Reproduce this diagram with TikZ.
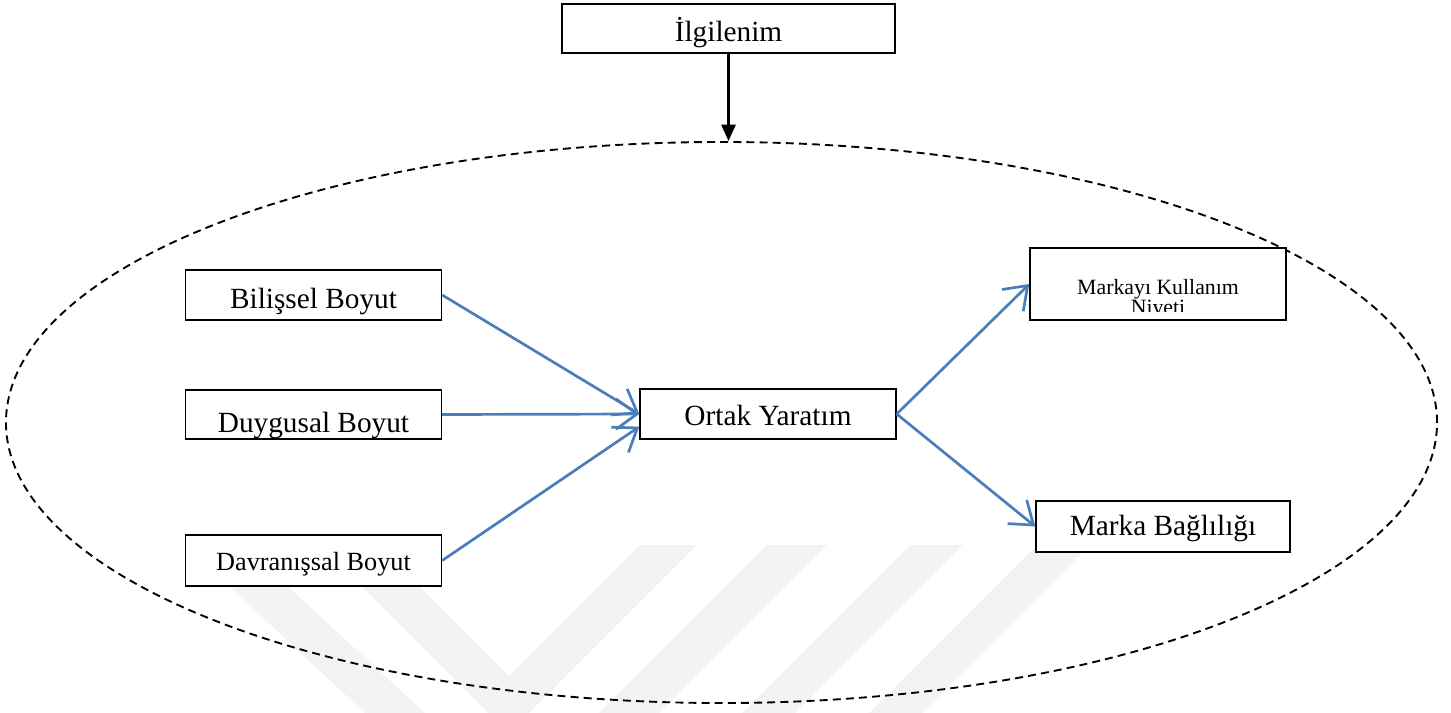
\documentclass[tikz,border=0pt]{standalone}
\usepackage{fontspec}
\setmainfont{Liberation Serif}
\usetikzlibrary{arrows.meta, positioning, shapes.geometric}
\definecolor{okmavi}{RGB}{74,126,187}
\definecolor{filigran}{RGB}{243,243,243}

\begin{document}
\begin{tikzpicture}[x=0.015cm, y=-0.015cm,
    kutu/.style={rectangle, draw, fill=white, line width=0.6pt, inner xsep=2pt, inner ysep=0pt,
                 minimum width=3.84cm, font=\fontsize{12.5}{15}\selectfont},
    taban/.style 2 args={text height=#1, text depth=#2},
    ok/.style={-{Straight Barb[length=9pt, width=13pt]}, draw=okmavi, line width=1.15pt}]

    \useasboundingbox (0,0) rectangle (1451,713);

    % Watermark
    \fill[filigran] (185,545) -- (243,545) -- (425,713) -- (365,713) -- cycle;
    \fill[filigran] (320,545) -- (378,545) -- (509,676) -- (640,545) -- (697,545) -- (529,713) -- (488,713) -- cycle;
    \fill[filigran] (767,545) -- (827,545) -- (659,713) -- (599,713) -- cycle;
    \fill[filigran] (910,545) -- (963,545) -- (795,713) -- (742,713) -- cycle;
    \fill[filigran] (1037,545) -- (1090,545) -- (922,713) -- (869,713) -- cycle;

    % Dashed frame
    \node[ellipse, draw, dash pattern=on 3.4pt off 2.2pt, line width=0.8pt,
          minimum width=21.465cm, minimum height=8.415cm, inner sep=0pt] (kapsam) at (721.5,422.5) {};

    % Boxes
    \node[kutu, minimum width=4.995cm, taban={0.57cm}{0.165cm}] (ilgi) at (728.5,28.5) {İlgilenim};
    \node[kutu, taban={0.57cm}{0.18cm}] (bilissel) at (313.5,295) {Bilişsel Boyut};
    \node[kutu, taban={0.63cm}{0.105cm}] (duygusal) at (313.5,414.5) {Duygusal Boyut};
    \node[kutu, font=\fontsize{11.2}{13}\selectfont, taban={0.525cm}{0.24cm}] (davranissal) at (313.5,560.5) {Davranışsal Boyut};
    \node[kutu, taban={0.54cm}{0.21cm}] (ortak) at (768,414) {Ortak Yaratım};
    \node[kutu, minimum height=1.08cm] (niyet) at (1158,284) {};
    \begin{scope}
      \clip (niyet.north west) rectangle ([yshift=0.14cm]niyet.south east);
      \node[align=center, font=\fontsize{9.3}{8.5}\selectfont] (niyetyazi) at (1158,299) {Markayı Kullanım\\Niyeti};
    \end{scope}
    \node[kutu, minimum width=3.81cm, taban={0.51cm}{0.255cm}] (baglilik) at (1163,526.5) {Marka Bağlılığı};

    % Connections
    \draw[-{Triangle[length=7pt, width=6pt]}, line width=1.1pt] (ilgi.south) -- (ilgi.south |- kapsam.north);
    \draw[ok] (bilissel.east) -- (ortak.west);
    \draw[ok] (duygusal.east) -- (ortak.west);
    \draw[ok] (davranissal.east) -- ([yshift=-0.19cm]ortak.west);
    \draw[ok] (ortak.east) -- (niyet.west);
    \draw[ok] (ortak.east) -- (baglilik.west);
\end{tikzpicture}
\end{document}
